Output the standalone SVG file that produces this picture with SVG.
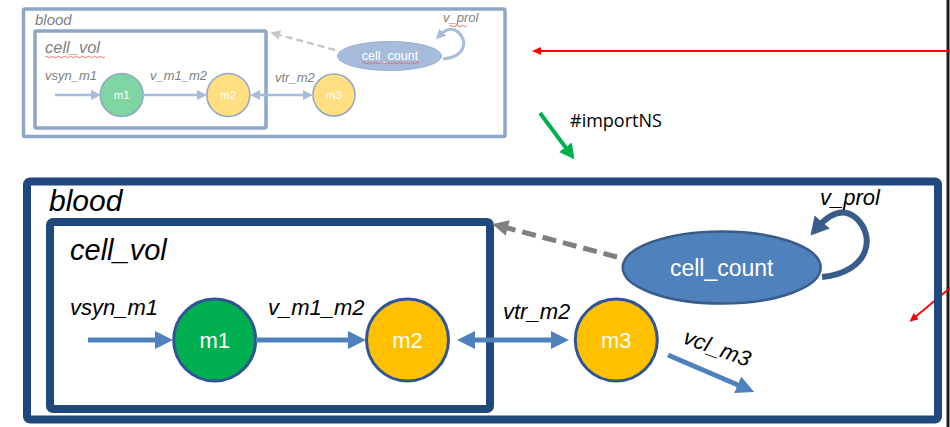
<svg xmlns="http://www.w3.org/2000/svg" width="950" height="427" viewBox="0 0 950 427">
<style>
.lbl{font-family:"Liberation Sans",Arial,sans-serif;font-style:italic;fill:#000}
.slbl{font-family:"Liberation Sans",Arial,sans-serif;font-style:italic;fill:#7f7f7f}
.ntxt{font-family:"Liberation Sans",Arial,sans-serif;fill:#fff;text-anchor:middle}
.big{fill:none;stroke:#1f497d;stroke-width:8}
.small{fill:none;stroke:#8fa6c6;stroke-width:3.5}
.bflow{fill:none;stroke:#4f81bd;stroke-width:5}
.sflow{fill:none;stroke:#a7bcdb;stroke-width:2.5}
.wavy{fill:none;stroke:#e05050;stroke-width:0.8}
</style>
<defs>
<marker id="ab" markerUnits="userSpaceOnUse" markerWidth="20" markerHeight="20" refX="8" refY="9" orient="auto-start-reverse"><path d="M0,0 L18,9 L0,18 z" fill="#4f81bd"/></marker>
<marker id="ad" markerUnits="userSpaceOnUse" markerWidth="20" markerHeight="22" refX="8" refY="10" orient="auto"><path d="M0,0 L18,10 L0,20 z" fill="#385d8a"/></marker>
<marker id="ag" markerUnits="userSpaceOnUse" markerWidth="18" markerHeight="18" refX="6" refY="8" orient="auto"><path d="M0,0 L16,8 L0,16 z" fill="#808080"/></marker>
<marker id="as" markerUnits="userSpaceOnUse" markerWidth="12" markerHeight="12" refX="4" refY="5" orient="auto-start-reverse"><path d="M0,0 L10,5 L0,10 z" fill="#a7bcdb"/></marker>
<marker id="asg" markerUnits="userSpaceOnUse" markerWidth="12" markerHeight="12" refX="4" refY="5" orient="auto"><path d="M0,0 L10,5 L0,10 z" fill="#c8c8c8"/></marker>
<marker id="ar" markerUnits="userSpaceOnUse" markerWidth="10" markerHeight="10" refX="3" refY="4" orient="auto"><path d="M0,0 L9,4 L0,8 z" fill="#ff0000"/></marker>
<marker id="agr" markerUnits="userSpaceOnUse" markerWidth="18" markerHeight="18" refX="6" refY="8" orient="auto"><path d="M0,0 L15,8 L0,16 z" fill="#00b050"/></marker>
</defs>

<!-- frame line at right edge -->
<rect x="946.5" y="0" width="3" height="427" fill="#1e1e1e"/>

<!-- ===== Small (original) diagram ===== -->
<g id="small-blood">
<rect class="small" x="23.5" y="9" width="481.5" height="127.5" rx="1.5"/>
<text class="slbl" x="35" y="25" font-size="15">blood</text>
</g>
<g id="small-cell_vol">
<rect class="small" x="35" y="31" width="231" height="97" rx="1.5"/>
<text class="slbl" x="45" y="53" font-size="16.5">cell_vol</text>
<path class="wavy" d="M45,57 q1.5,-1.5 3,0 t3,0 t3,0 t3,0 t3,0 t3,0 t3,0 t3,0 t3,0 t3,0 t3,0 t3,0 t3,0 t3,0 t3,0 t3,0 t3,0 t3,0 t3,0 t3,0"/>
</g>
<g id="small-m1">
<circle cx="121.7" cy="95" r="21.5" fill="#80d6a2" stroke="#8ea6c8" stroke-width="1.5"/>
<text class="ntxt" x="121.7" y="99" font-size="11.5">m1</text>
</g>
<g id="small-m2">
<circle cx="228.3" cy="95" r="21.5" fill="#ffdf80" stroke="#8ea6c8" stroke-width="1.5"/>
<text class="ntxt" x="228.3" y="99" font-size="11.5">m2</text>
</g>
<g id="small-m3">
<circle cx="334" cy="95" r="21" fill="#ffdf80" stroke="#8ea6c8" stroke-width="1.5"/>
<text class="ntxt" x="334" y="99" font-size="11.5">m3</text>
</g>
<g id="small-cell_count">
<ellipse cx="389.5" cy="56" rx="52" ry="14.5" fill="#a7bcdb" stroke="#98b0d2" stroke-width="1"/>
<text class="ntxt" x="390" y="60" font-size="12.5">cell_count</text>
<path class="wavy" d="M362,63 q1.5,-1.5 3,0 t3,0 t3,0 t3,0 t3,0 t3,0 t3,0 t3,0 t3,0 t3,0 t3,0 t3,0 t3,0 t3,0 t3,0 t3,0 t3,0 t3,0 t3,0"/>
</g>
<g id="small-connectors">
<line class="sflow" x1="55" y1="95" x2="95" y2="95" marker-end="url(#as)"/>
<line class="sflow" x1="143" y1="95" x2="201" y2="95" marker-end="url(#as)"/>
<line class="sflow" x1="256" y1="95" x2="307" y2="95" marker-start="url(#as)" marker-end="url(#as)"/>
<line x1="335" y1="50" x2="276" y2="34" stroke="#c8c8c8" stroke-width="2.5" stroke-dasharray="7,4" marker-end="url(#asg)"/>
<path d="M443,59 C466,57 468,40 458,32 C452,27 446,29 440,35" fill="none" stroke="#a7bcdb" stroke-width="3" marker-end="url(#as)"/>
<text class="slbl" x="45" y="80" font-size="13">vsyn_m1</text>
<text class="slbl" x="150" y="80" font-size="13">v_m1_m2</text>
<text class="slbl" x="275" y="82" font-size="13">vtr_m2</text>
<text class="slbl" x="443" y="22" font-size="13">v_prol</text>
<path class="wavy" d="M449,26 q1.5,-1.5 3,0 t3,0 t3,0 t3,0 t3,0 t3,0"/>
</g>

<!-- annotations -->
<g id="annotations">
<line x1="950" y1="51" x2="538" y2="51" stroke="#ff0000" stroke-width="2" marker-end="url(#ar)"/>
<line x1="540" y1="113" x2="569" y2="152" stroke="#00b050" stroke-width="4" marker-end="url(#agr)"/>
<text x="570" y="127" font-family="'Open Sans','Liberation Sans',sans-serif" font-size="18" fill="#000">#importNS</text>
<line x1="950" y1="288" x2="914" y2="318" stroke="#ff0000" stroke-width="1.8" marker-end="url(#ar)"/>
</g>

<!-- ===== Large (imported) diagram ===== -->
<g id="blood">
<rect class="big" x="27" y="181.5" width="911" height="238" rx="3"/>
<text class="lbl" x="49" y="211" font-size="30">blood</text>
</g>
<g id="cell_vol">
<rect class="big" x="50" y="222" width="440" height="187" rx="3"/>
<text class="lbl" x="70" y="260" font-size="29">cell_vol</text>
</g>
<g id="m1">
<circle cx="214.7" cy="340" r="41" fill="#00b050" stroke="#2f5597" stroke-width="3"/>
<text class="ntxt" x="214.7" y="348" font-size="22">m1</text>
</g>
<g id="m2">
<circle cx="407.5" cy="340" r="41" fill="#ffc000" stroke="#2f5597" stroke-width="3"/>
<text class="ntxt" x="407.5" y="348" font-size="22">m2</text>
</g>
<g id="m3">
<circle cx="616.3" cy="340" r="41" fill="#ffc000" stroke="#2f5597" stroke-width="3"/>
<text class="ntxt" x="616.3" y="348" font-size="22">m3</text>
</g>
<g id="cell_count">
<ellipse cx="721.7" cy="267.5" rx="99" ry="36" fill="#4f81bd" stroke="#385d8a" stroke-width="2.5"/>
<text class="ntxt" x="721.7" y="276" font-size="23">cell_count</text>
</g>

<g id="connectors">
<line class="bflow" x1="88" y1="340" x2="163" y2="340" marker-end="url(#ab)"/>
<line class="bflow" x1="256" y1="340" x2="356" y2="340" marker-end="url(#ab)"/>
<line class="bflow" x1="467" y1="340" x2="559" y2="340" marker-start="url(#ab)" marker-end="url(#ab)"/>
<line class="bflow" x1="668" y1="355" x2="745" y2="388" marker-end="url(#ab)"/>
<line x1="617" y1="257" x2="502" y2="226.5" stroke="#808080" stroke-width="5" stroke-dasharray="14,7" marker-end="url(#ag)"/>
<path d="M822,277 C870,272 876,236 856,218 C843,207 829,214 817,228" fill="none" stroke="#385d8a" stroke-width="6" marker-end="url(#ad)"/>
<text class="lbl" x="70" y="315" font-size="22">vsyn_m1</text>
<text class="lbl" x="268" y="315" font-size="22">v_m1_m2</text>
<text class="lbl" x="503" y="319" font-size="22">vtr_m2</text>
<text class="lbl" x="820" y="205" font-size="22">v_prol</text>
<text class="lbl" x="0" y="0" font-size="22" transform="translate(682,343) rotate(20)">vcl_m3</text>
</g>
</svg>
